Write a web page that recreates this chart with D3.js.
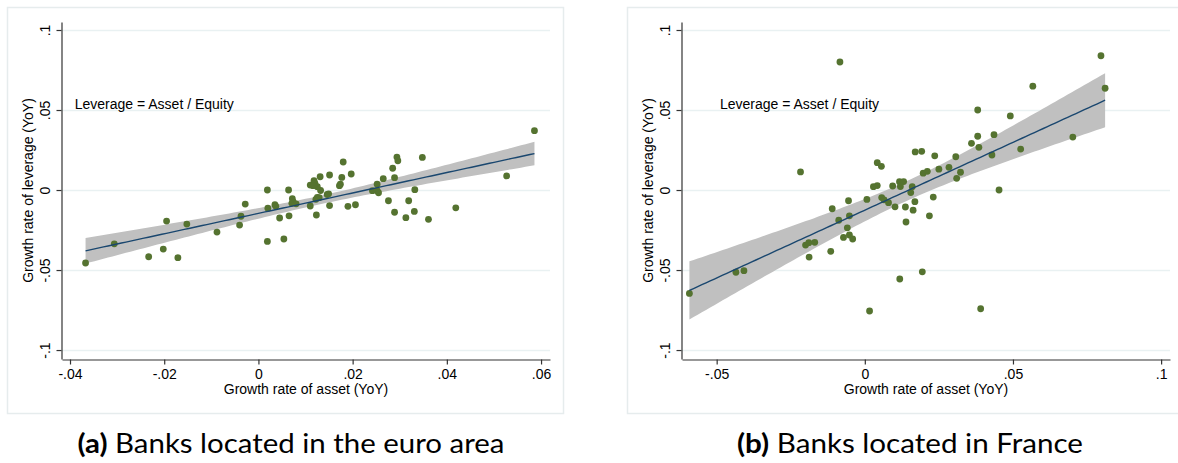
<!DOCTYPE html>
<html>
<head>
<meta charset="utf-8">
<script src="https://cdn.jsdelivr.net/npm/d3@7"></script>
<style>
  html, body { margin: 0; padding: 0; background: #ffffff; }
  svg { display: block; }
</style>
</head>
<body>
<svg id="chart" width="1178" height="463"></svg>
<script>
// ---------- DATA ----------
// Panel (a): banks located in the euro area
const euroAsset = [-0.0367,-0.0306,-0.0233,-0.0195,-0.0202,-0.0171,-0.0152,-0.0088,-0.0040,-0.0037,
  -0.0028,0.0019,0.0019,0.0020,0.0035,0.0037,0.0045,0.0054,0.0064,0.0065,
  0.0072,0.0074,0.0071,0.0080,0.0110,0.0110,0.0118,0.0120,0.0131,0.0132,
  0.0125,0.0122,0.0129,0.0146,0.0123,0.0151,0.0151,0.0180,0.0177,0.0174,
  0.0172,0.0197,0.0190,0.0206,0.0242,0.0252,0.0252,0.0255,0.0265,0.0276,
  0.0285,0.0289,0.0294,0.0296,0.0289,0.0319,0.0313,0.0331,0.0332,0.0348,
  0.0361,0.0419,0.0527,0.0586,0.0125,0.0116,0.0149];
const euroLeverage = [-0.0456,-0.0336,-0.0417,-0.0194,-0.0369,-0.0423,-0.0213,-0.0263,-0.0219,-0.0164,
  -0.0088,0.0000,-0.0321,-0.0114,-0.0092,-0.0102,-0.0175,-0.0306,0.0000,-0.0161,
  -0.0054,-0.0075,-0.0083,-0.0086,0.0031,-0.0100,0.0058,0.0042,0.0083,-0.0003,
  -0.0046,-0.0058,-0.0048,-0.0028,-0.0156,0.0094,-0.0097,0.0175,0.0079,0.0036,
  0.0027,0.0100,-0.0102,-0.0092,-0.0004,0.0036,-0.0004,-0.0017,0.0071,-0.0067,
  0.0136,0.0077,0.0206,0.0183,-0.0139,-0.0067,-0.0173,-0.0134,0.0002,0.0204,
  -0.0183,-0.0111,0.0088,0.0371,0.0021,0.0027,-0.0024];

// Panel (b): banks located in France
const franceAsset = [-0.0592,-0.0435,-0.0408,-0.0217,-0.0200,-0.0189,-0.0169,-0.0188,-0.0115,-0.0110,
  -0.0088,-0.0084,-0.0055,-0.0052,-0.0059,-0.0052,-0.0072,-0.0041,0.0007,0.0016,
  0.0029,0.0042,0.0042,0.0056,0.0057,0.0065,0.0080,0.0094,0.0102,0.0117,
  0.0131,0.0120,0.0118,0.0137,0.0139,0.0155,0.0160,0.0163,0.0170,0.0192,
  0.0169,0.0194,0.0197,0.0211,0.0218,0.0231,0.0236,0.0250,0.0284,0.0307,
  0.0310,0.0323,0.0360,0.0381,0.0381,0.0385,0.0391,0.0429,0.0436,0.0453,
  0.0491,0.0526,0.0567,0.0702,0.0797,0.0811];
const franceLeverage = [-0.0646,-0.0514,-0.0504,0.0113,-0.0344,-0.0329,-0.0327,-0.0419,-0.0383,-0.0117,
  -0.0189,0.0800,-0.0067,-0.0161,-0.0236,-0.0281,-0.0296,-0.0306,-0.0059,-0.0756,
  0.0021,0.0028,0.0171,0.0148,-0.0047,-0.0061,-0.0079,0.0025,-0.0105,0.0052,
  0.0053,0.0022,-0.0556,-0.0106,-0.0200,-0.0016,0.0021,-0.0126,0.0238,0.0242,
  -0.0073,-0.0511,0.0105,0.0117,-0.0161,-0.0044,0.0214,0.0130,0.0142,0.0208,
  0.0073,0.0111,0.0292,0.0500,0.0336,0.0267,-0.0742,0.0219,0.0346,0.0000,
  0.0463,0.0256,0.0649,0.0331,0.0839,0.0636];

// Tick values and labels
const yTickValues = [-0.1, -0.05, 0, 0.05, 0.1];
const yTickLabels = ["-.1", "-.05", "0", ".05", ".1"];
const euroXTickValues = [-0.04, -0.02, 0, 0.02, 0.04, 0.06];
const euroXTickLabels = ["-.04", "-.02", "0", ".02", ".04", ".06"];
const franceXTickValues = [-0.05, 0, 0.05, 0.1];
const franceXTickLabels = ["-.05", "0", ".05", ".1"];

// Texts
const xTitle = "Growth rate of asset (YoY)";
const yTitle = "Growth rate of leverage (YoY)";
const noteText = "Leverage = Asset / Equity";
const captionLetters = ["(a)", "(b)"];
const captionTexts = ["Banks located in the euro area", "Banks located in France"];

// ---------- DRAWING ----------
const svg = d3.select("#chart");
const FONT = "Arial, 'Liberation Sans', sans-serif";
const markerColor = "#557330";
const lineColor = "#1a476f";
const bandColor = "#c0c0c0";
const gridColor = "#e9f1f2";
const frameColor = "#e6eced";

function ols(xs, ys) {
  const n = xs.length;
  const mx = d3.mean(xs), my = d3.mean(ys);
  let sxx = 0, sxy = 0;
  for (let i = 0; i < n; i++) { sxx += (xs[i]-mx)**2; sxy += (xs[i]-mx)*(ys[i]-my); }
  const b = sxy / sxx, a = my - b*mx;
  let sse = 0;
  for (let i = 0; i < n; i++) sse += (ys[i] - a - b*xs[i])**2;
  const s = Math.sqrt(sse / (n-2));
  return {a, b, s, mx, sxx, n};
}

function panel(cfg) {
  const g = svg.append("g");
  // outer frame
  g.append("rect").attr("x", cfg.frame[0]+0.5).attr("y", cfg.frame[1]+0.5)
    .attr("width", cfg.frame[2]).attr("height", cfg.frame[3])
    .attr("fill", "#ffffff").attr("stroke", frameColor).attr("stroke-width", 1.5);

  const x = d3.scaleLinear().domain(cfg.xDomain).range([cfg.left, cfg.right]);
  const y = d3.scaleLinear().domain(cfg.yDomain).range([cfg.bottom, cfg.top]);

  // gridlines
  g.append("g").selectAll("line").data(yTickValues).join("line")
    .attr("x1", cfg.left).attr("x2", cfg.right)
    .attr("y1", d => Math.round(y(d)) + 0.5).attr("y2", d => Math.round(y(d)) + 0.5)
    .attr("stroke", gridColor).attr("stroke-width", 1.3);

  // fitted line and CI band
  const fit = ols(cfg.xs, cfg.ys);
  const t = 1.998;
  const xmin = d3.min(cfg.xs), xmax = d3.max(cfg.xs);
  const grid = d3.range(0, 101).map(i => xmin + (xmax - xmin) * i / 100);
  const band = grid.map(xv => {
    const yh = fit.a + fit.b * xv;
    const se = fit.s * Math.sqrt(1/fit.n + (xv - fit.mx)**2 / fit.sxx);
    return {x: xv, y: yh, lo: yh - t*se, hi: yh + t*se};
  });
  g.append("path").datum(band)
    .attr("d", d3.area().x(d => x(d.x)).y0(d => y(d.lo)).y1(d => y(d.hi)))
    .attr("fill", bandColor);

  // scatter points
  g.append("g").selectAll("circle").data(cfg.xs.map((v, i) => [v, cfg.ys[i]])).join("circle")
    .attr("cx", d => x(d[0])).attr("cy", d => y(d[1])).attr("r", 3.4)
    .attr("fill", markerColor);

  g.append("path").datum(band)
    .attr("d", d3.line().x(d => x(d.x)).y(d => y(d.y)))
    .attr("fill", "none").attr("stroke", lineColor).attr("stroke-width", 1.4);

  // axes
  const yAxis = d3.axisLeft(y).tickValues(yTickValues)
    .tickFormat((d, i) => yTickLabels[i]).tickSize(5).tickSizeOuter(0).tickPadding(4);
  const ya = g.append("g").attr("transform", `translate(${cfg.left - 0.5},0)`).call(yAxis);
  ya.selectAll(".tick text").each(function(d) {
    d3.select(this).attr("transform", `rotate(-90)`).attr("x", 0).attr("y", -12)
      .attr("dy", "0").attr("text-anchor", "middle");
  });

  const xAxis = d3.axisBottom(x).tickValues(cfg.xTickValues)
    .tickFormat((d, i) => cfg.xTickLabels[i]).tickSize(5).tickSizeOuter(0).tickPadding(5);
  const xa = g.append("g").attr("transform", `translate(0,${cfg.bottom + 0.5})`).call(xAxis);

  [ya, xa].forEach(a => {
    a.select(".domain").attr("stroke", "#333").attr("stroke-width", 1.2);
    a.selectAll(".tick line").attr("stroke", "#333").attr("stroke-width", 1.2);
    a.selectAll("text").attr("font-family", FONT).attr("font-size", 14).attr("fill", "#000");
  });

  // axis titles
  g.append("text").attr("x", (cfg.left + cfg.right) / 2).attr("y", cfg.bottom + 35)
    .attr("text-anchor", "middle").attr("font-family", FONT).attr("font-size", 14)
    .attr("fill", "#000").text(xTitle);
  g.append("text")
    .attr("transform", `translate(${cfg.left - 29},${(cfg.top + cfg.bottom) / 2}) rotate(-90)`)
    .attr("text-anchor", "middle").attr("font-family", FONT).attr("font-size", 14)
    .attr("fill", "#000").text(yTitle);

  // note
  g.append("text").attr("x", x(cfg.note[0])).attr("y", y(cfg.note[1]))
    .attr("font-family", FONT).attr("font-size", 14).attr("fill", "#000")
    .attr("dominant-baseline", "middle").text(noteText);

  // caption
  const cap = svg.append("text").attr("x", cfg.capX).attr("y", 453)
    .attr("text-anchor", "middle").attr("font-family", "Lato, 'Open Sans', sans-serif")
    .attr("font-size", 26).attr("fill", "#000")
    .attr("textLength", cfg.capLen).attr("lengthAdjust", "spacingAndGlyphs");
  cap.append("tspan").attr("font-weight", "bold").text(cfg.capLetter);
  cap.append("tspan").text(" " + cfg.capText);
}

panel({
  frame: [7, 7, 556, 406],
  left: 62, right: 550, top: 22, bottom: 359,
  xDomain: [-0.0417, 0.0619], yDomain: [-0.1056, 0.105],
  xs: euroAsset, ys: euroLeverage,
  xTickValues: euroXTickValues, xTickLabels: euroXTickLabels,
  note: [-0.039, 0.053],
  capX: 291, capLen: 427, capLetter: captionLetters[0], capText: captionTexts[0]
});

panel({
  frame: [627, 7, 556, 406],
  left: 682, right: 1170, top: 22, bottom: 359,
  xDomain: [-0.0617, 0.103], yDomain: [-0.1056, 0.105],
  xs: franceAsset, ys: franceLeverage,
  xTickValues: franceXTickValues, xTickLabels: franceXTickLabels,
  note: [-0.0489, 0.053],
  capX: 910, capLen: 346, capLetter: captionLetters[1], capText: captionTexts[1]
});
</script>
</body>
</html>
